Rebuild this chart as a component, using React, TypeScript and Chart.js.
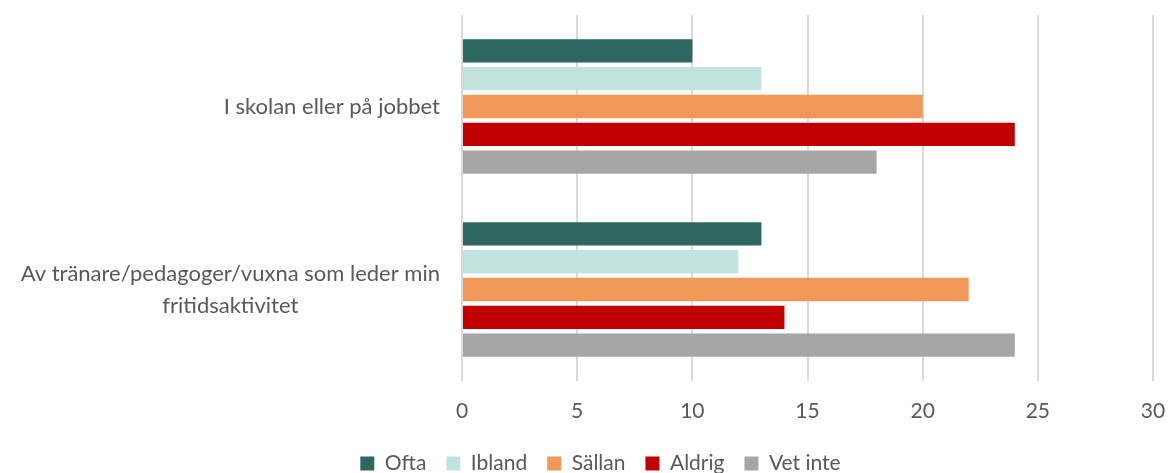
import React, { useEffect, useRef } from "react";
import { Chart, registerables } from "chart.js";

Chart.register(...registerables);

const categories: string[][] = [
  ["I skolan eller på jobbet"],
  ["Av tränare/pedagoger/vuxna som leder min", "fritidsaktivitet"],
];
const seriesNames = ["Ofta", "Ibland", "Sällan", "Aldrig", "Vet inte"];
const ofta = [10, 13];
const ibland = [13, 12];
const sallan = [20, 22];
const aldrig = [24, 14];
const vetInte = [18, 24];
const colors = ["#2E6660", "#C0E3DF", "#F09857", "#C00000", "#A6A6A6"];
const xTicks = [0, 5, 10, 15, 20, 25, 30];

const FONT = "Lato, 'Open Sans', sans-serif";
const TEXT = "#595959";
const PAD_LEFT = 48;

const yLabelPlugin = {
  id: "yLabels",
  afterDraw(chart: any) {
    const ctx = chart.ctx;
    const y = chart.scales.y;
    const right = chart.chartArea.left - 22;
    ctx.save();
    ctx.font = `22px ${FONT}`;
    ctx.fillStyle = TEXT;
    ctx.textAlign = "center";
    ctx.textBaseline = "middle";
    const lh = 32;
    categories.forEach((lines, i) => {
      const cy = y.getPixelForValue(i);
      const w = Math.max(...lines.map((l) => ctx.measureText(l).width));
      const cx = right - w / 2;
      const start = cy - ((lines.length - 1) * lh) / 2;
      lines.forEach((l, j) => ctx.fillText(l, cx, start + j * lh));
    });
    ctx.restore();
  },
};

export default function App() {
  const ref = useRef<HTMLCanvasElement>(null);
  useEffect(() => {
    const data = [ofta, ibland, sallan, aldrig, vetInte];
    const chart = new Chart(ref.current!, {
      type: "bar",
      data: {
        labels: categories.map((c) => c.join(" ")),
        datasets: seriesNames.map((name, i) => ({
          label: name,
          data: data[i],
          backgroundColor: colors[i],
          borderWidth: 0,
          categoryPercentage: 0.76,
          barPercentage: 0.84,
        })),
      },
      options: {
        indexAxis: "y",
        responsive: false,
        animation: false,
        maintainAspectRatio: false,
        layout: { padding: { left: PAD_LEFT, right: 15, top: 15, bottom: -11 } },
        scales: {
          x: {
            min: 0,
            max: 30,
            afterBuildTicks: (scale: any) => {
              scale.ticks = xTicks.map((v) => ({ value: v }));
            },
            afterFit: (scale: any) => {
              scale.height = 52;
              scale.paddingRight = 0;
              scale.paddingLeft = 0;
            },
            grid: { color: "#D9D9D9", lineWidth: 2, drawTicks: false },
            border: { display: false },
            ticks: {
              color: TEXT,
              font: { family: FONT, size: 21 },
              padding: 18,
              maxRotation: 0,
            },
          },
          y: {
            grid: { display: false },
            border: { display: false },
            ticks: { display: false },
            afterFit: (scale: any) => {
              scale.width = 462 - PAD_LEFT;
            },
          },
        },
        plugins: {
          legend: {
            position: "bottom",
            labels: {
              boxWidth: 14,
              boxHeight: 14,
              color: TEXT,
              font: { family: FONT, size: 21 },
              padding: 20,
            },
          },
          tooltip: { enabled: false },
        },
      },
      plugins: [yLabelPlugin],
    });
    return () => chart.destroy();
  }, []);
  return (
    <div style={{ position: "fixed", left: 0, top: 0, width: 1168, height: 473, background: "#fff" }}>
      <canvas ref={ref} width={1168} height={473} />
    </div>
  );
}
